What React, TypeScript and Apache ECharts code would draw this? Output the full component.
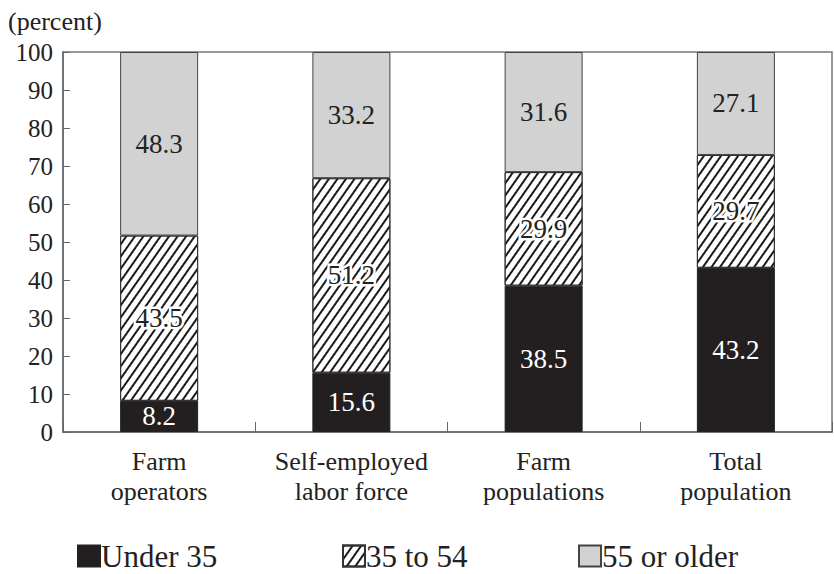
import React, { useEffect, useRef } from "react";
import * as echarts from "echarts";

const categories = ["Farm\noperators", "Self-employed\nlabor force", "Farm\npopulations", "Total\npopulation"];
const under35 = [8.2, 15.6, 38.5, 43.2];
const age35to54 = [43.5, 51.2, 29.9, 29.7];
const age55plus = [48.3, 33.2, 31.6, 27.1];
const seriesNames = ["Under 35", "35 to 54", "55 or older"];
const legendLefts = [77, 342, 578];

const FONT = "Liberation Serif";

export default function App() {
  const ref = useRef<HTMLDivElement>(null);
  useEffect(() => {
    if (!ref.current) return;
    const chart = echarts.init(ref.current, null, { renderer: "svg" });
    const hatch = {
      symbol: "rect",
      symbolSize: 1,
      color: "#1a1a1a",
      dashArrayX: [1, 0],
      dashArrayY: [1.4, 5],
      rotation: -Math.PI * 55 / 180,
    };
    const labelBase = {
      show: true,
      position: "inside",
      fontFamily: FONT,
      fontSize: 27,
      formatter: (p: any) => p.value.toFixed(1),
    };
    chart.setOption({
      animation: false,
      textStyle: { fontFamily: FONT },
      grid: {
        left: 63,
        right: 2,
        top: 52,
        bottom: 142,
        show: true,
        borderColor: "#777",
        borderWidth: 1.5,
        containLabel: false,
      },
      graphic: [
        {
          type: "text",
          left: 8,
          top: 8,
          style: { text: "(percent)", fontFamily: FONT, fontSize: 26, fill: "#222" },
        },
      ],
      legend: seriesNames.map((name, i) => ({
        left: legendLefts[i],
        top: 539,
        padding: 0,
        itemWidth: 22,
        itemHeight: 21,
        icon: "rect",
        textStyle: { fontFamily: FONT, fontSize: 31, lineHeight: 34, color: "#222", padding: [0, 0, 0, -4] },
        data: [name],
      })),
      xAxis: {
        type: "category",
        data: categories,
        axisLine: { lineStyle: { color: "#666", width: 1.5 } },
        axisTick: { show: true, inside: true, length: 10, interval: 0, lineStyle: { color: "#666" } },
        axisLabel: { fontFamily: FONT, fontSize: 26, color: "#222", lineHeight: 30, margin: 14, interval: 0 },
      },
      yAxis: {
        type: "value",
        min: 0,
        max: 100,
        interval: 10,
        splitLine: { show: false },
        axisLine: { show: true, lineStyle: { color: "#666", width: 1.5 } },
        axisTick: { show: true, inside: true, length: 7, lineStyle: { color: "#666" } },
        axisLabel: { fontFamily: FONT, fontSize: 25, color: "#222", margin: 10 },
      },
      series: [
        {
          name: seriesNames[0],
          type: "bar",
          stack: "a",
          barWidth: 78,
          data: under35,
          itemStyle: { color: "#231f20", borderColor: "#222", borderWidth: 1 },
          label: { ...labelBase, color: "#fff" },
        },
        {
          name: seriesNames[1],
          type: "bar",
          stack: "a",
          barWidth: 78,
          data: age35to54,
          itemStyle: { color: "#fff", borderColor: "#333", borderWidth: 1, decal: hatch },
          label: { ...labelBase, color: "#222", textBorderColor: "#fff", textBorderWidth: 5 },
        },
        {
          name: seriesNames[2],
          type: "bar",
          stack: "a",
          barWidth: 78,
          data: age55plus,
          itemStyle: { color: "#d2d2d2", borderColor: "#444", borderWidth: 1 },
          label: { ...labelBase, color: "#222" },
        },
      ],
    });
    return () => chart.dispose();
  }, []);
  return <div ref={ref} style={{ width: 834, height: 574, position: "absolute", left: 0, top: 0 }} />;
}
